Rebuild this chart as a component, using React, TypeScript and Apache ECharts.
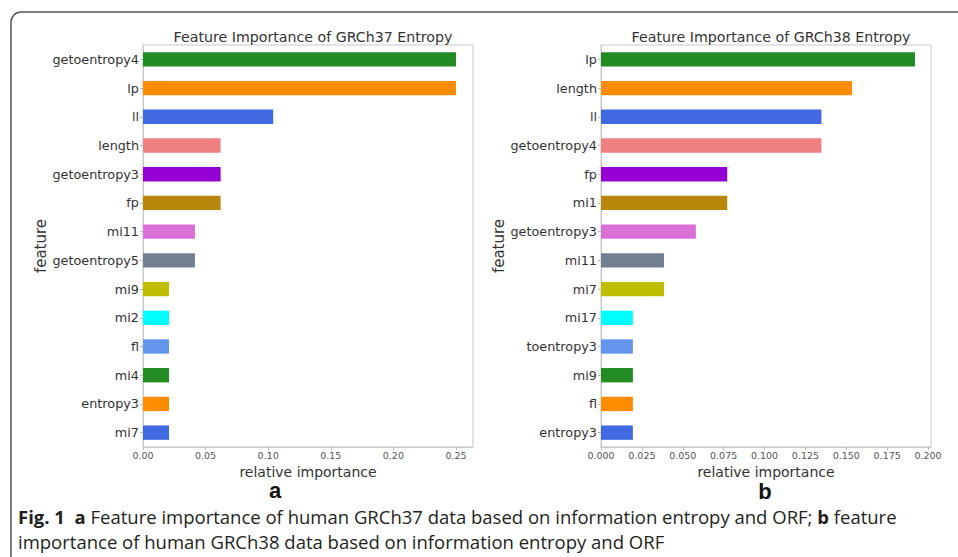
import React, { useEffect, useRef } from "react";
import * as echarts from "echarts";

const featuresA = ["getoentropy4", "lp", "ll", "length", "getoentropy3", "fp", "mi11", "getoentropy5", "mi9", "mi2", "fl", "mi4", "entropy3", "mi7"];
const valuesA = [0.25, 0.25, 0.104, 0.062, 0.062, 0.062, 0.0415, 0.0415, 0.0208, 0.0208, 0.0208, 0.0208, 0.0208, 0.0208];
const featuresB = ["lp", "length", "ll", "getoentropy4", "fp", "mi1", "getoentropy3", "mi11", "mi7", "mi17", "toentropy3", "mi9", "fl", "entropy3"];
const valuesB = [0.192, 0.1535, 0.1348, 0.1348, 0.0772, 0.0772, 0.058, 0.0385, 0.0385, 0.0195, 0.0195, 0.0195, 0.0195, 0.0195];
const barColors = ["#228B22", "#FF8C00", "#4169E1", "#F08080", "#9400D3", "#B8860B", "#DA70D6", "#708090", "#BFBF00", "#00FFFF", "#6495ED"];
const titleA = "Feature Importance of GRCh37 Entropy";
const titleB = "Feature Importance of GRCh38 Entropy";

const font = "DejaVu Sans";
const capFont = "'Open Sans', sans-serif";

function colored(vals: number[]) {
  return vals.map((v, i) => ({ value: v, itemStyle: { color: barColors[i % barColors.length] } }));
}

export default function App() {
  const ref = useRef<HTMLDivElement>(null);
  useEffect(() => {
    document.body.style.margin = "0";
    const chart = echarts.init(ref.current!, undefined, { renderer: "svg" });
    const xAxisCommon = (max: number, interval: number, digits: number, gridIndex: number) => ({
      type: "value",
      gridIndex,
      min: 0,
      max,
      interval,
      name: "relative importance",
      nameLocation: "middle",
      nameGap: 12,
      nameTextStyle: { fontFamily: font, fontSize: 14, color: "#333" },
      axisLine: { show: true, lineStyle: { color: "#c8c8c8" } },
      axisTick: { show: true, length: 3, lineStyle: { color: "#bbb" } },
      axisLabel: {
        showMaxLabel: false,
        fontFamily: font,
        fontSize: 9.5,
        color: "#555",
        margin: 3,
        formatter: (v: number) => v.toFixed(digits),
      },
      splitLine: { show: false },
    });
    const yAxisCommon = (data: string[], gridIndex: number) => ({
      type: "category",
      gridIndex,
      data,
      inverse: true,
      name: "feature",
      nameLocation: "middle",
      nameRotate: 90,
      nameGap: 86,
      nameTextStyle: { fontFamily: font, fontSize: 15, color: "#333" },
      axisLine: { show: true, lineStyle: { color: "#c8c8c8" } },
      axisTick: { show: true, alignWithLabel: true, length: 3, lineStyle: { color: "#bbb" } },
      axisLabel: { fontFamily: font, fontSize: 12.8, color: "#333", margin: 4 },
    });
    chart.setOption({
      animation: false,
      title: [
        { text: titleA, left: 308, top: 25, textAlign: "center", textStyle: { fontFamily: font, fontSize: 14.2, fontWeight: "normal", color: "#333" } },
        { text: titleB, left: 766, top: 25, textAlign: "center", textStyle: { fontFamily: font, fontSize: 14.2, fontWeight: "normal", color: "#333" } },
      ],
      grid: [
        { left: 143, top: 45, width: 330, height: 402, show: true, borderColor: "#c8c8c8", borderWidth: 1, containLabel: false },
        { left: 601, top: 45, width: 330, height: 402, show: true, borderColor: "#c8c8c8", borderWidth: 1, containLabel: false },
      ],
      xAxis: [xAxisCommon(0.2636, 0.05, 2, 0), xAxisCommon(0.2018, 0.025, 3, 1)],
      yAxis: [yAxisCommon(featuresA, 0), yAxisCommon(featuresB, 1)],
      series: [
        { type: "bar", xAxisIndex: 0, yAxisIndex: 0, data: colored(valuesA), barWidth: "50%" },
        { type: "bar", xAxisIndex: 1, yAxisIndex: 1, data: colored(valuesB), barWidth: "50%" },
      ],
      graphic: [
        { type: "rect", shape: { x: 11, y: 12, width: 1100, height: 700, r: 10 }, style: { fill: "none", stroke: "#555", lineWidth: 1.5 }, silent: true },
        { type: "text", x: 275, y: 490, style: { text: "a", fontFamily: "Liberation Sans", fontWeight: "bold", fontSize: 22, fill: "#111", align: "center", verticalAlign: "middle" } },
        { type: "text", x: 765, y: 491, style: { text: "b", fontFamily: "Liberation Sans", fontWeight: "bold", fontSize: 22, fill: "#111", align: "center", verticalAlign: "middle" } },
        {
          type: "text", x: 18, y: 516,
          style: {
            text: "{b|Fig. 1}  {b|a} Feature importance of human GRCh37 data based on information entropy and ORF; {b|b} feature",
            fontFamily: capFont, fontSize: 18.5, fill: "#231f20", verticalAlign: "middle",
            rich: { b: { fontFamily: capFont, fontSize: 18.5, fontWeight: "bold", fill: "#231f20" } },
          },
        },
        {
          type: "text", x: 18, y: 541,
          style: { text: "importance of human GRCh38 data based on information entropy and ORF", fontFamily: capFont, fontSize: 18.5, fill: "#231f20", verticalAlign: "middle" },
        },
      ],
    });
    return () => chart.dispose();
  }, []);
  return <div ref={ref} style={{ width: 958, height: 557 }} />;
}
